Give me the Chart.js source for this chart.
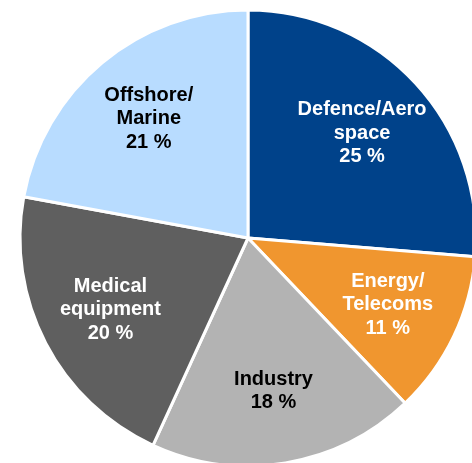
<!DOCTYPE html>
<html>
<head>
<meta charset="utf-8">
<title>Sales by market</title>
<script src="https://cdn.jsdelivr.net/npm/chart.js@4/dist/chart.umd.min.js"></script>
<style>
  html, body { margin: 0; padding: 0; background: #ffffff; overflow: hidden; }
  #wrap { position: absolute; left: 0; top: 0; }
</style>
</head>
<body>
<div id="wrap"><canvas id="marketPie" width="496" height="476"></canvas></div>
<script>
// market segments, clockwise from 12 o'clock
const segments = ["Defence/Aerospace", "Energy/Telecoms", "Industry", "Medical equipment", "Offshore/Marine"];
const segmentLines = [["Defence/Aero", "space"], ["Energy/", "Telecoms"], ["Industry"], ["Medical", "equipment"], ["Offshore/", "Marine"]];
const sharePct = [25, 11, 18, 20, 21];
const sliceColours = ["#00428a", "#f0962f", "#b3b3b3", "#5f5f5f", "#b8dcff"];
const textColours = ["#ffffff", "#ffffff", "#000000", "#ffffff", "#000000"];

// writes the name + percentage inside each slice
const sliceLabels = {
    id: "sliceLabels",
    afterDatasetsDraw(chart) {
        const ctx = chart.ctx;
        const arcs = chart.getDatasetMeta(0).data;
        ctx.save();
        ctx.font = "bold 20px 'Liberation Sans', Arial, sans-serif";
        ctx.textAlign = "center";
        ctx.textBaseline = "middle";
        const lineH = 23.5;
        arcs.forEach((arc, i) => {
            const p = arc.getProps(["x", "y", "startAngle", "endAngle", "outerRadius"], true);
            const mid = (p.startAngle + p.endAngle) / 2;
            const r = p.outerRadius * 0.68;
            const cx = p.x + Math.cos(mid) * r;
            const cy = p.y + Math.sin(mid) * r;
            const lines = segmentLines[i].concat([sharePct[i] + " %"]);
            const top = cy - (lines.length - 1) * lineH / 2;
            ctx.fillStyle = textColours[i];
            lines.forEach((t, j) => ctx.fillText(t, cx, top + j * lineH));
        });
        ctx.restore();
    }
};

document.addEventListener("DOMContentLoaded", function () {
    const ctx = document.getElementById("marketPie").getContext("2d");
    new Chart(ctx, {
        type: "pie",
        data: {
            labels: segments,
            datasets: [{
                data: sharePct,
                backgroundColor: sliceColours,
                borderColor: "#ffffff",
                borderWidth: 3
            }]
        },
        options: {
            responsive: false,
            animation: false,
            radius: 228,
            layout: { padding: 0 },
            plugins: {
                legend: { display: false },
                tooltip: { enabled: false }
            }
        },
        plugins: [sliceLabels]
    });
});
</script>
</body>
</html>
